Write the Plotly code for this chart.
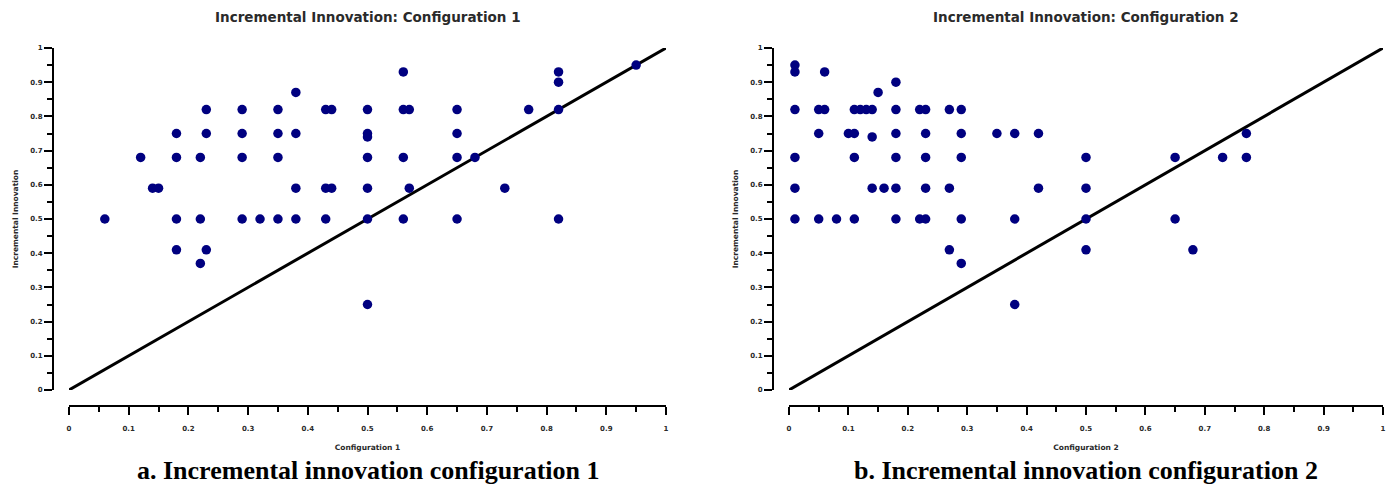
import plotly.graph_objects as go

# ---- data: panel a (Configuration 1) ----
conf1_x = [0.06, 0.12, 0.14, 0.15,
           0.18, 0.18, 0.18, 0.18,
           0.22, 0.22, 0.22,
           0.23, 0.23, 0.23,
           0.29, 0.29, 0.29, 0.29,
           0.32,
           0.35, 0.35, 0.35, 0.35,
           0.38, 0.38, 0.38, 0.38,
           0.43, 0.44, 0.43, 0.44, 0.43,
           0.50, 0.50, 0.50, 0.50, 0.50, 0.50, 0.50,
           0.56, 0.56, 0.57, 0.56, 0.57, 0.56,
           0.65, 0.65, 0.65, 0.65,
           0.68, 0.73, 0.77,
           0.82, 0.82, 0.82, 0.82,
           0.95]
conf1_y = [0.50, 0.68, 0.59, 0.59,
           0.75, 0.68, 0.50, 0.41,
           0.68, 0.50, 0.37,
           0.82, 0.75, 0.41,
           0.82, 0.75, 0.68, 0.50,
           0.50,
           0.82, 0.75, 0.68, 0.50,
           0.87, 0.75, 0.59, 0.50,
           0.82, 0.82, 0.59, 0.59, 0.50,
           0.82, 0.75, 0.74, 0.68, 0.59, 0.50, 0.25,
           0.93, 0.82, 0.82, 0.68, 0.59, 0.50,
           0.82, 0.75, 0.68, 0.50,
           0.68, 0.59, 0.82,
           0.93, 0.90, 0.82, 0.50,
           0.95]

# ---- data: panel b (Configuration 2) ----
conf2_x = [0.01, 0.01, 0.01, 0.01, 0.01, 0.01,
           0.05, 0.06, 0.06, 0.05, 0.05, 0.08,
           0.10, 0.11, 0.11, 0.11, 0.12, 0.13, 0.14, 0.11,
           0.14, 0.15, 0.14, 0.16,
           0.18, 0.18, 0.18, 0.18, 0.18, 0.18,
           0.22, 0.23, 0.23, 0.23, 0.23, 0.22, 0.23,
           0.27, 0.27, 0.27,
           0.29, 0.29, 0.29, 0.29, 0.29,
           0.35, 0.38, 0.38, 0.38, 0.42, 0.42,
           0.50, 0.50, 0.50, 0.50,
           0.65, 0.65, 0.68, 0.73, 0.77, 0.77]
conf2_y = [0.95, 0.93, 0.82, 0.68, 0.59, 0.50,
           0.82, 0.93, 0.82, 0.75, 0.50, 0.50,
           0.75, 0.75, 0.68, 0.82, 0.82, 0.82, 0.82, 0.50,
           0.74, 0.87, 0.59, 0.59,
           0.90, 0.82, 0.75, 0.68, 0.59, 0.50,
           0.82, 0.82, 0.75, 0.68, 0.59, 0.50, 0.50,
           0.82, 0.59, 0.41,
           0.82, 0.75, 0.68, 0.50, 0.37,
           0.75, 0.75, 0.50, 0.25, 0.75, 0.59,
           0.68, 0.59, 0.50, 0.41,
           0.68, 0.50, 0.41, 0.68, 0.75, 0.68]

ref_line = [0, 1]

titles = ["Incremental Innovation: Configuration 1",
          "Incremental Innovation: Configuration 2"]
x_titles = ["Configuration 1", "Configuration 2"]
y_title = "Incremental Innovation"
captions = ["a. Incremental innovation configuration 1",
            "b. Incremental innovation configuration 2"]

# page is 1394x496, the HTML body has an 8px default margin
PAGE_W, PAGE_H = 1394, 496
OFF = 8
W, H = PAGE_W - OFF, PAGE_H - OFF
MARK = "#000080"
TXT = "#2a2a2a"
SANS = "DejaVu Sans"


def fx(p):  # page pixel x -> paper fraction
    return (p - OFF) / W


def fy(p):  # page pixel y (from top) -> paper fraction
    return (H - (p - OFF)) / H


panels = [
    dict(x0=69, x1=666, yaxis_x=53),
    dict(x0=789, x1=1383, yaxis_x=773),
]
y_top, y_bot = 48, 390
xaxis_line_y = 406

fig = go.Figure()

for i, (px, dx, dy) in enumerate([(panels[0], conf1_x, conf1_y),
                                  (panels[1], conf2_x, conf2_y)]):
    n = "" if i == 0 else str(i + 1)
    xa, ya = "x" + n, "y" + n
    fig.add_trace(go.Scatter(x=ref_line, y=ref_line, mode="lines",
                             line=dict(color="black", width=3),
                             xaxis=xa, yaxis=ya, showlegend=False,
                             hoverinfo="skip"))
    fig.add_trace(go.Scatter(x=dx, y=dy, mode="markers",
                             marker=dict(color=MARK, size=9.5, symbol="circle"),
                             xaxis=xa, yaxis=ya, showlegend=False,
                             cliponaxis=False))

    xdom = [fx(px["x0"]), fx(px["x1"])]
    ydom = [fy(y_bot), fy(y_top)]
    common = dict(range=[0, 1], dtick=0.1, tick0=0, showgrid=False,
                  zeroline=False, showline=True, linecolor="black",
                  linewidth=2, ticks="outside", ticklen=8, tickwidth=2,
                  tickcolor="black", automargin=False,
                  ticklabeloverflow="allow",
                  minor=dict(dtick=0.05, ticklen=5, tickwidth=2,
                             tickcolor="black", ticks="outside"),
                  tickfont=dict(family=SANS, size=7, color=TXT, weight="bold"),
                  anchor="free")
    fig.layout["xaxis" + n] = dict(
        common, domain=xdom, position=fy(xaxis_line_y),
        ticklabelstandoff=8,
        title=dict(text=x_titles[i], standoff=11,
                   font=dict(family=SANS, size=7.5, color=TXT, weight="bold")))
    fig.layout["yaxis" + n] = dict(
        common, domain=ydom, position=fx(px["yaxis_x"]),
        title=dict(text=y_title, standoff=10,
                   font=dict(family=SANS, size=7.5, color=TXT, weight="bold")))

    cx = (fx(px["x0"]) + fx(px["x1"])) / 2
    fig.add_annotation(text=titles[i], xref="paper", yref="paper",
                       x=cx, y=fy(17), showarrow=False,
                       xanchor="center", yanchor="middle",
                       font=dict(family=SANS, size=13.5, color=TXT, weight="bold"))
    fig.add_annotation(text=captions[i], xref="paper", yref="paper",
                       x=cx, y=fy(470), showarrow=False,
                       xanchor="center", yanchor="middle",
                       font=dict(family="Liberation Serif", size=26,
                                 color="black", weight="bold"))

fig.update_layout(width=W, height=H, margin=dict(l=0, r=0, t=0, b=0),
                  paper_bgcolor="white", plot_bgcolor="white")

fig.write_html("out.html")
